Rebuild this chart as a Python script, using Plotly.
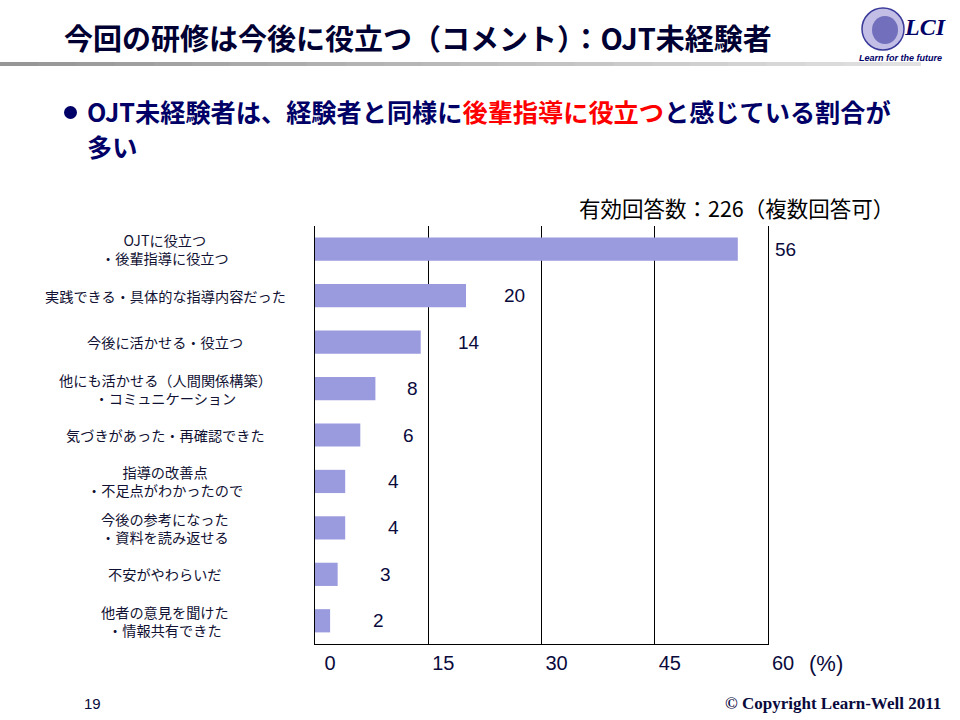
import plotly.graph_objects as go

categories = [
    "OJTに役立つ<br>・後輩指導に役立つ",
    "実践できる・具体的な指導内容だった",
    "今後に活かせる・役立つ",
    "他にも活かせる（人間関係構築）<br>・コミュニケーション",
    "気づきがあった・再確認できた",
    "指導の改善点<br>・不足点がわかったので",
    "今後の参考になった<br>・資料を読み返せる",
    "不安がやわらいだ",
    "他者の意見を聞けた<br>・情報共有できた",
]
values = [56, 20, 14, 8, 6, 4, 4, 3, 2]
x_ticks = [0, 15, 30, 45, 60]

title_text = "今回の研修は今後に役立つ（コメント）：OJT未経験者"
note_text = "有効回答数：226（複数回答可）"

NAVY = "#0a0a3c"
JP = "Noto Sans CJK JP"
SANS = "Liberation Sans, Arial"

fig = go.Figure()
fig.add_trace(go.Bar(
    x=values, y=categories, orientation="h",
    marker=dict(color="#9a9ade", line=dict(width=0)),
    hoverinfo="skip", showlegend=False,
))

ann = []
# category labels (centered, multi-line)
for c in categories:
    ann.append(dict(x=165 / 960, xref="paper", y=c, yref="y", text=c,
                    showarrow=False, xanchor="center", yanchor="middle",
                    align="center", borderpad=0,
                    font=dict(family=JP, size=14.2, color="#111133")))
# value labels (placed to the right of each bar end)
label_shift = {3: 37}
for i, (c, v) in enumerate(zip(categories, values)):
    ann.append(dict(x=v, xref="x", y=c, yref="y", text=str(v), showarrow=False,
                    xanchor="center", yanchor="middle", xshift=label_shift.get(i, 48),
                    font=dict(family=SANS, size=19, color=NAVY)))

# title and texts
ann += [
    dict(x=418 / 960, y=1 - 37 / 720, xref="paper", yref="paper", text="<b>" + title_text + "</b>",
         showarrow=False, xanchor="center", yanchor="middle",
         font=dict(family=JP, size=29, color="#000033")),
    dict(x=86 / 960, y=1 - 111 / 720, xref="paper", yref="paper",
         text="<b>OJT未経験者は、経験者と同様に"
              "<span style='color:#ff0000'>後輩指導に役立つ</span>と感じている割合が</b>",
         showarrow=False, xanchor="left", yanchor="middle", borderpad=0,
         font=dict(family=JP, size=25.2, color="#000066")),
    dict(x=86 / 960, y=1 - 146 / 720, xref="paper", yref="paper",
         text="<b>多い</b>",
         showarrow=False, xanchor="left", yanchor="middle", borderpad=0,
         font=dict(family=JP, size=25.2, color="#000066")),
    dict(x=896 / 960, y=1 - 208 / 720, xref="paper", yref="paper", text=note_text,
         showarrow=False, xanchor="right", yanchor="middle",
         font=dict(family=JP, size=21.5, color="#000000")),
    dict(x=826 / 960, y=1 - 663 / 720, xref="paper", yref="paper", text="(%)",
         showarrow=False, xanchor="center", yanchor="middle",
         font=dict(family=SANS, size=22, color=NAVY)),
    dict(x=92 / 960, y=1 - 703 / 720, xref="paper", yref="paper", text="19",
         showarrow=False, xanchor="center", yanchor="middle",
         font=dict(family=SANS, size=15, color=NAVY)),
    dict(x=943 / 960, y=1 - 703 / 720, xref="paper", yref="paper",
         text="<b>© Copyright Learn-Well 2011</b>",
         showarrow=False, xanchor="right", yanchor="middle",
         font=dict(family="Liberation Serif", size=17, color=NAVY)),
    dict(x=925 / 960, y=1 - 27 / 720, xref="paper", yref="paper", text="<b><i>LCI</i></b>",
         showarrow=False, xanchor="center", yanchor="middle",
         font=dict(family="Liberation Serif", size=24, color="#000066")),
    dict(x=900 / 960, y=1 - 58 / 720, xref="paper", yref="paper", text="<b><i>Learn for the future</i></b>",
         showarrow=False, xanchor="center", yanchor="middle",
         font=dict(family=SANS, size=9, color="#000066")),
]

shapes = []
# gradient gray rule under title
n = 24
for i in range(n):
    g = int(150 + (225 - 150) * i / (n - 1))
    shapes.append(dict(type="rect", xref="paper", yref="paper",
                       x0=i * 920 / n / 960, x1=(i + 1) * 920 / n / 960 + 0.001,
                       y0=1 - 66 / 720, y1=1 - 62 / 720,
                       fillcolor=f"rgb({g},{g},{g})", line=dict(width=0), layer="above"))
# bullet point
shapes.append(dict(type="circle", xref="paper", yref="paper",
                   x0=64 / 960, x1=77 / 960, y0=1 - 119 / 720, y1=1 - 106 / 720,
                   fillcolor="#000066", line=dict(width=0)))
# logo globe
shapes.append(dict(type="circle", xref="paper", yref="paper",
                   x0=862 / 960, x1=904 / 960, y0=1 - 50 / 720, y1=1 - 8 / 720,
                   fillcolor="rgba(120,110,200,0.45)", line=dict(color="#3a3a9a", width=1.5)))
shapes.append(dict(type="circle", xref="paper", yref="paper",
                   x0=872 / 960, x1=898 / 960, y0=1 - 44 / 720, y1=1 - 16 / 720,
                   fillcolor="rgba(60,60,160,0.6)", line=dict(width=0)))

fig.update_layout(
    width=960, height=720,
    margin=dict(l=0, r=0, t=0, b=0, autoexpand=False),
    paper_bgcolor="white", plot_bgcolor="white",
    bargap=0.5,
    xaxis=dict(domain=[315 / 960, 768 / 960], range=[0, 60], tickvals=x_ticks,
               showgrid=True, gridcolor="black", gridwidth=1, zeroline=False,
               showline=True, linecolor="black", linewidth=1, ticks="",
               ticklabelshift=15, ticklabelstandoff=1, automargin=False,
               tickfont=dict(family=SANS, size=20, color=NAVY), fixedrange=True),
    yaxis=dict(domain=[1 - 644 / 720, 1 - 226 / 720], autorange="reversed",
               showticklabels=False, showgrid=False, zeroline=False,
               showline=True, mirror=True, linecolor="black", linewidth=1, ticks="",
               automargin=False, fixedrange=True),
    annotations=ann, shapes=shapes,
)

fig.write_html("out.html")
